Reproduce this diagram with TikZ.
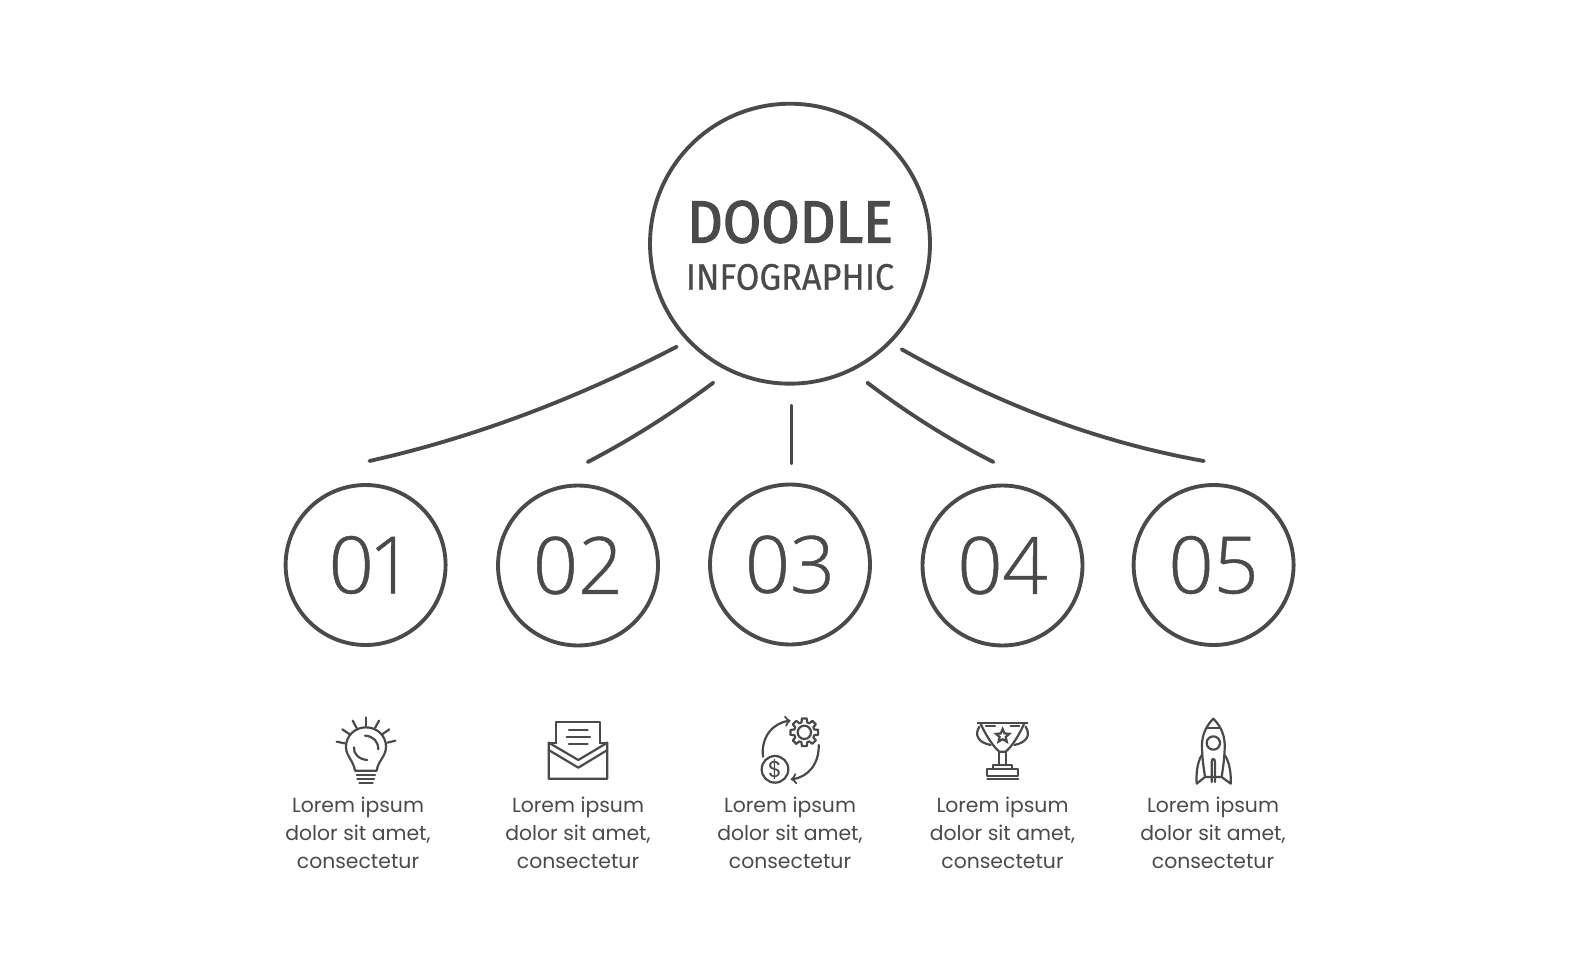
\documentclass[tikz,border=0pt]{standalone}
\usepackage{fontspec}
\setmainfont{Poppins}
\newfontfamily\titlefont[FakeStretch=0.93,FakeBold=2]{Fira Sans}
\newfontfamily\subtitlefont[FakeStretch=0.93,FakeBold=0.4]{Fira Sans}
\newfontfamily\numfont[UprightFont=* Light,Numbers=Proportional,FakeBold=0.6]{Open Sans}
\usetikzlibrary{shapes.geometric}
\definecolor{inkgray}{HTML}{4A4A4A}
\tikzset{
  bubble/.style={circle,draw=inkgray,line width=2.2pt,inner sep=0pt},
  link/.style={draw=inkgray,line width=2.2pt,line cap=round},
  iconline/.style={draw=inkgray,line width=1.25pt,line join=round,line cap=round},
  caption/.style={text=inkgray,font=\fontsize{11.6}{14}\selectfont,anchor=base},
}
\begin{document}
\begin{tikzpicture}[>=to,x=0.02cm,y=-0.02cm]
\useasboundingbox (0,0) rectangle (1579,980);
% Big circle
\node[bubble,minimum size=5.6cm] (main) at (790,243.7) {};
\node[text=inkgray,font=\titlefont\fontsize{34}{34}\selectfont] (doodle) at (790,222) {DOODLE};
\node[text=inkgray,font=\subtitlefont\fontsize{21}{21}\selectfont] (infographic) at (790,277) {INFOGRAPHIC};
% Number circles
\foreach \i/\x/\y in {1/365.6/565,2/578/565.5,3/790/564.5,4/1002.5/565.5,5/1213.6/565}
\node[bubble,minimum size=3.2cm,text=inkgray,font=\numfont\fontsize{45}{45}\selectfont] (num\i) at (\x,\y) {0\i};
% Free ends of the lines
\coordinate (a1) at (676.7,346.7);
\coordinate (b1) at (369.4,461);
\coordinate (a2) at (713.3,382.7);
\coordinate (b2) at (587.8,462);
\coordinate (a3) at (791.5,406);
\coordinate (b3) at (791.5,463);
\coordinate (a4) at (867.3,382.7);
\coordinate (b4) at (993.4,462);
\coordinate (a5) at (901.7,349.3);
\coordinate (b5) at (1203.8,461);
\draw[link] (a1) .. controls (574,400) and (472,438) .. (b1);
\draw[link] (a2) .. controls (670,415) and (630,440) .. (b2);
\draw[link] (a3) -- (b3);
\draw[link] (a4) .. controls (910,415) and (950,440) .. (b4);
\draw[link] (a5) .. controls (1000,405) and (1098,442) .. (b5);
% Captions
\foreach \i/\x in {1/358,2/578,3/790,4/1002.5,5/1213}{
\node[caption] (capa\i) at (\x,812) {Lorem ipsum};
\node[caption] (capb\i) at (\x,840) {dolor sit amet,};
\node[caption] (capc\i) at (\x,868) {consectetur};
}
% Bulb
\begin{scope}[shift={(310,700)},scale=1/3]
\draw[iconline] (135,212) .. controls (130,180) and (108,170) .. (108,140)
  .. controls (108,107) and (135,82) .. (168,82)
  .. controls (201,82) and (228,107) .. (228,140)
  .. controls (228,170) and (205,180) .. (200,212) -- cycle;
\foreach \xa/\ya/\xb/\yb in {140/226/195/226,142/237/192/237,148/248/188/248,
  168/52/168/78,128/62/140/84,207/62/195/84,97/88/118/102,238/88/218/102,80/125/104/130,256/122/232/128}
\draw[iconline] (\xa,\ya) -- (\xb,\yb);
\draw[iconline] (165,107) .. controls (190,108) and (205,125) .. (205,148);
\draw[iconline] (132,142) .. controls (130,160) and (145,178) .. (172,180);
% Envelope
\draw[iconline] (716,128) -- (716,236) -- (892,236) -- (892,128) -- (805,180) -- cycle;
\draw[iconline] (716,150) -- (805,203) -- (892,150);
\draw[iconline] (739,130) -- (739,67) -- (870,67) -- (870,130);
\draw[iconline] (716,128) -- (739,128);
\draw[iconline] (870,128) -- (892,128);
\foreach \xa/\xb/\ya in {777/833/90,770/840/111,777/833/132}
\draw[iconline] (\xa,\ya) -- (\xb,\ya);
\end{scope}
% Gear and coin
\begin{scope}[shift={(730,700)},scale=1/3]
\draw[iconline] (223,97) circle (20);
\foreach \a in {0,45,...,315}
\draw[iconline,shift={(223,97)}] (\a-10:42) -- (\a+10:42) -- (\a+16:31) -- (\a+29:31) -- (\a+35:42);
\draw[iconline] (135,208) circle (40);
\node[text=inkgray,font=\fontsize{13}{13}\selectfont] (dollar) at (135,208) {\$};
\draw[iconline,->] (99,170) .. controls (92,110) and (130,68) .. (182,62);
\draw[iconline,->] (266,135) .. controls (268,190) and (235,232) .. (182,238);
% Trophy
\draw[iconline] (743,69) -- (892,69);
\draw[iconline] (752,72) .. controls (770,110) and (790,140) .. (808,155) -- (827,155)
  .. controls (845,140) and (865,110) .. (882,72);
\draw[iconline] (748,80) .. controls (732,105) and (745,128) .. (782,135);
\draw[iconline] (887,80) .. controls (903,105) and (890,128) .. (853,135);
\draw[iconline] (768,78) -- (795,78);
\draw[iconline] (842,78) -- (868,78);
\draw[iconline] (808,155) -- (808,195) (827,155) -- (827,195);
\draw[iconline] (790,207) -- (790,195) -- (845,195) -- (845,207);
\draw[iconline] (772,207) rectangle (865,228);
\draw[iconline] (772,236) -- (865,236);
\node[star,star points=5,star point ratio=2.2,draw=inkgray,line width=1.25pt,inner sep=0pt,minimum size=0.28cm] (trophystar) at (818,108) {};
\end{scope}
% Rocket
\begin{scope}[shift={(1160,702)},scale=1/3]
\draw[iconline] (160,50) .. controls (135,75) and (124,105) .. (126,140)
  .. controls (127,170) and (130,190) .. (135,225);
\draw[iconline] (160,50) .. controls (185,75) and (196,105) .. (194,140)
  .. controls (193,170) and (190,190) .. (185,225);
\draw[iconline] (142,78) -- (178,78);
\draw[iconline] (160,123) circle (20);
\draw[iconline] (125,160) .. controls (112,180) and (108,215) .. (110,245) -- (135,225) -- (185,225) -- (212,245)
  .. controls (214,215) and (208,180) .. (195,160);
\draw[iconline] (155,240) -- (155,180) .. controls (155,168) and (165,168) .. (165,180) -- (165,240);
\end{scope}
\end{tikzpicture}
\end{document}
